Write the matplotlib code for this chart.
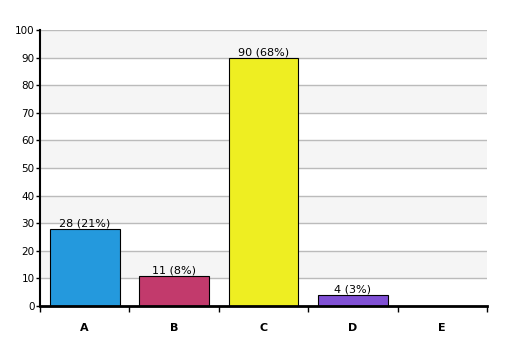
import numpy as np
import matplotlib.pyplot as plt

categories = ["A", "B", "C", "D", "E"]
counts = [28, 11, 90, 4, 0]
labels = ["28 (21%)", "11 (8%)", "90 (68%)", "4 (3%)", ""]
colors = ["#2499dd", "#c23a6c", "#eeee22", "#8050d4", "#888888"]

fig = plt.figure(figsize=(5.07, 3.56), dpi=100)
ax = fig.add_axes([40/507, 1-306/356, 447/507, 276/356])

# alternating bands
for lo in range(10, 100, 20):
	ax.axhspan(lo, lo+10, color="#f5f5f5", zorder=0, lw=0)
for y in range(10, 101, 10):
	ax.axhline(y, color="#bbbbbb", lw=1, zorder=1)

x = np.arange(len(categories))
ax.bar(x, counts, width=0.78, color=colors, edgecolor="black", linewidth=0.8, zorder=3)

for xi, c, lab in zip(x, counts, labels):
	if lab:
		ax.text(xi, c, lab, ha="center", va="bottom", fontsize=8, zorder=4)

ax.set_xlim(-0.5, 4.5)
ax.set_ylim(0, 100)
ax.set_yticks(np.arange(0, 101, 10))
ax.set_xticks(np.arange(-0.5, 5, 1))
ax.set_xticklabels([])
ax.set_xticks(x, minor=True)
ax.set_xticklabels(categories, minor=True, fontweight="bold", fontsize=8)
ax.tick_params(axis="x", which="minor", length=0, pad=12)
ax.tick_params(axis="x", which="major", length=4, width=1, direction="out")
ax.tick_params(axis="y", length=3, width=1, labelsize=7.5, pad=1)

for s in ["top", "right"]:
	ax.spines[s].set_visible(False)
ax.spines["left"].set_linewidth(1.5)
ax.spines["bottom"].set_linewidth(2)
ax.spines["left"].set_zorder(5)
ax.spines["bottom"].set_zorder(5)

fig.savefig("out.png", dpi=100)
